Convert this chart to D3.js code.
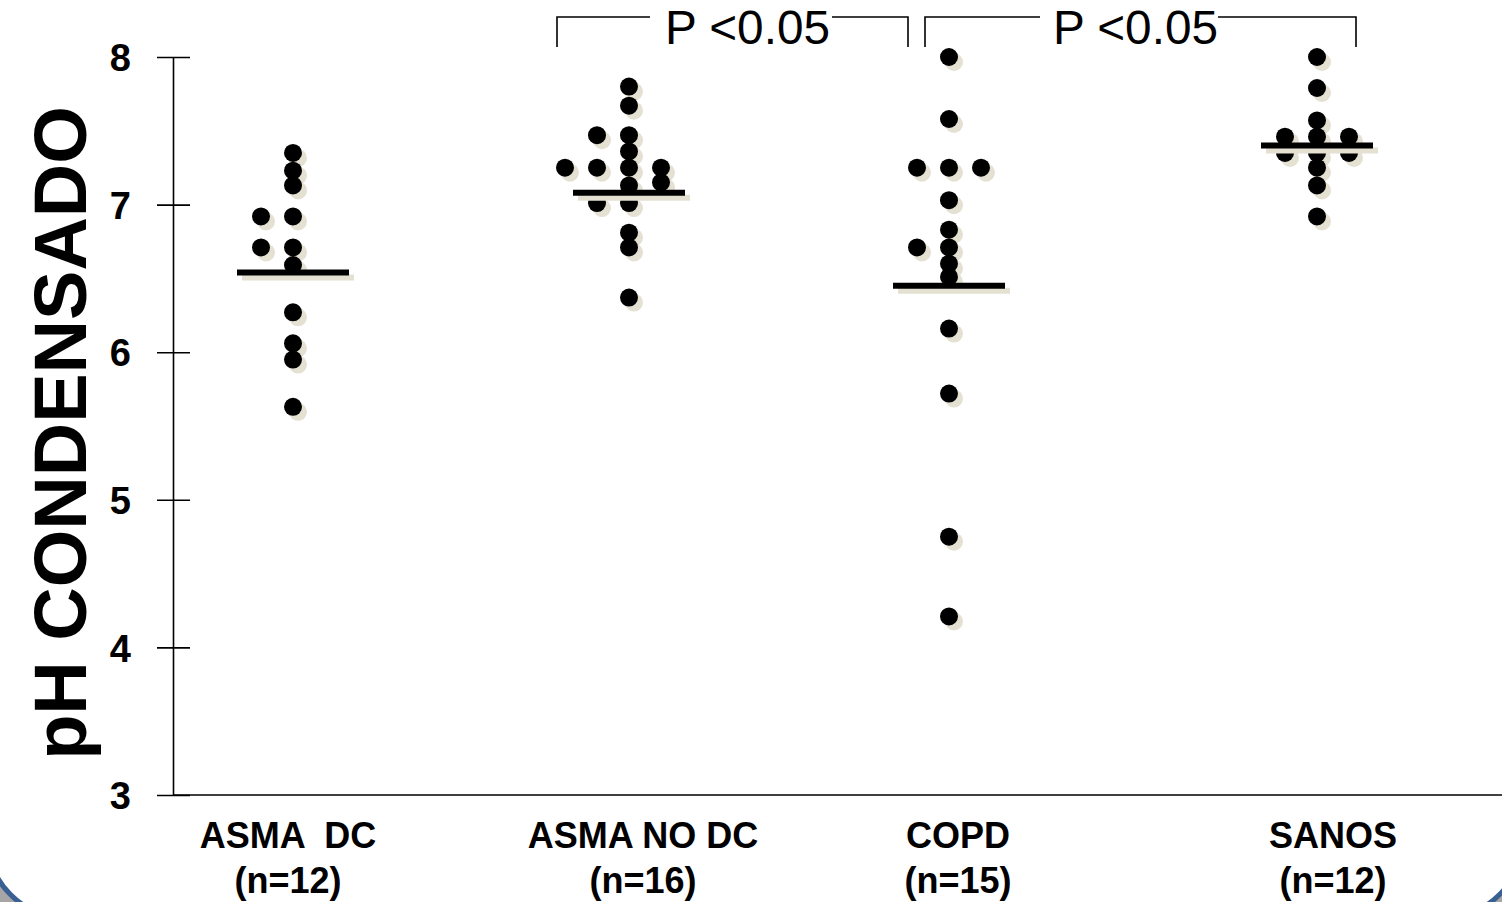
<!DOCTYPE html>
<html>
<head>
<meta charset="utf-8">
<script src="https://cdn.jsdelivr.net/npm/d3@7"></script>
<style>
  body { margin: 0; background: #fff; }
  text { font-family: Arial, "Liberation Sans", sans-serif; }
</style>
</head>
<body>
<script>
// groups on the x axis
var groups = ["ASMA  DC", "ASMA NO DC", "COPD", "SANOS"];
var groupN = ["(n=12)", "(n=16)", "(n=15)", "(n=12)"];

// pH per subject, with its column inside the group (0 = centre)
var asmaDcPh = [7.35, 7.23, 7.13, 6.92, 6.92, 6.71, 6.71, 6.59, 6.27, 6.06, 5.95, 5.63];
var asmaDcCol = [0, 0, 0, -1, 0, -1, 0, 0, 0, 0, 0, 0];
var asmaNoDcPh = [7.80, 7.67, 7.47, 7.47, 7.36, 7.25, 7.25, 7.25, 7.25, 7.15, 7.13, 7.01, 7.01, 6.81, 6.71, 6.37];
var asmaNoDcCol = [0, 0, -1, 0, 0, -2, -1, 0, 1, 1, 0, -1, 0, 0, 0, 0];
var copdPh = [8.00, 7.58, 7.25, 7.25, 7.25, 7.03, 6.83, 6.71, 6.71, 6.60, 6.51, 6.16, 5.72, 4.75, 4.21];
var copdCol = [0, 0, -1, 0, 1, 0, 0, -1, 0, 0, 0, 0, 0, 0, 0];
var sanosPh = [8.00, 7.79, 7.57, 7.46, 7.46, 7.46, 7.35, 7.35, 7.35, 7.25, 7.13, 6.92];
var sanosCol = [0, 0, 0, -1, 0, 1, -1, 0, 1, 0, 0, 0];

// group mean lines
var meanPh = [6.54, 7.08, 6.45, 7.40];

var yTicks = [3, 4, 5, 6, 7, 8];
var pLabel = "P <0.05";

var W = 1502, H = 902;
var shadow = "#e4e1d2";
var colStep = 32, r = 9, meanHalf = 56;

var svg = d3.select("body").append("svg").attr("width", W).attr("height", H);

// slide frame: grey behind, white rounded panel with blue border
svg.append("rect").attr("width", W).attr("height", H).attr("fill", "#a6a6a6");
svg.append("rect")
  .attr("x", -13).attr("y", -100).attr("width", 1536).attr("height", 1018)
  .attr("rx", 80).attr("ry", 80)
  .attr("fill", "#fff").attr("stroke", "#3a5f93").attr("stroke-width", 5);

var y = d3.scaleLinear().domain([3, 8]).range([795, 57]);
var x = d3.scaleOrdinal().domain(groups).range([293, 629, 949, 1317]);
var xLabel = d3.scaleOrdinal().domain(groups).range([288, 643, 958, 1333]);

var points = [];
[[asmaDcPh, asmaDcCol], [asmaNoDcPh, asmaNoDcCol], [copdPh, copdCol], [sanosPh, sanosCol]]
  .forEach(function(g, gi) {
    g[0].forEach(function(v, i) {
      points.push({group: groups[gi], value: v, col: g[1][i]});
    });
  });

// y axis, ticks reach both sides of the line
var yAxis = d3.axisLeft(y).tickValues(yTicks).tickFormat(d3.format("d"))
  .tickSizeInner(16).tickSizeOuter(0).tickPadding(26);
var ga = svg.append("g").attr("transform", "translate(173,0)").call(yAxis);
ga.select(".domain").attr("stroke", "#000").attr("stroke-width", 1.6);
ga.selectAll(".tick line").attr("x1", 17).attr("stroke", "#000").attr("stroke-width", 1.6);
ga.selectAll(".tick text")
  .attr("fill", "#000")
  .style("font-family", "Arial, 'Liberation Sans', sans-serif")
  .style("font-size", "38px").style("font-weight", "bold")
  .attr("dy", "0.36em");

// baseline along the bottom
svg.append("line")
  .attr("x1", 173).attr("x2", W).attr("y1", y(3)).attr("y2", y(3))
  .attr("stroke", "#000").attr("stroke-width", 1.6);

svg.append("text")
  .attr("transform", "translate(86," + 433 + ") rotate(-90)")
  .attr("text-anchor", "middle")
  .style("font-size", "74px").style("font-weight", "bold")
  .text("pH CONDENSADO");

// category labels
var gl = svg.selectAll(".glabel").data(groups).enter().append("g").attr("class", "glabel");
gl.append("text")
  .attr("x", function(d) { return xLabel(d); }).attr("y", 848)
  .attr("text-anchor", "middle").style("white-space", "pre")
  .style("font-size", "36px").style("font-weight", "bold")
  .text(function(d) { return d; });
gl.append("text")
  .attr("x", function(d) { return xLabel(d); }).attr("y", 893)
  .attr("text-anchor", "middle")
  .style("font-size", "36px").style("font-weight", "bold")
  .text(function(d, i) { return groupN[i]; });

// dots: shadows first, then the black marks
function cx(d) { return x(d.group) + d.col * colStep; }
svg.append("g").selectAll("circle").data(points).enter().append("circle")
  .attr("cx", function(d) { return cx(d) + 5; })
  .attr("cy", function(d) { return y(d.value) + 5; })
  .attr("r", r).attr("fill", shadow);
svg.append("g").selectAll("circle").data(points).enter().append("circle")
  .attr("cx", cx)
  .attr("cy", function(d) { return y(d.value); })
  .attr("r", r).attr("fill", "#000");

// mean lines
[[5, shadow], [0, "#000"]].forEach(function(s) {
  svg.append("g").selectAll("line").data(groups).enter().append("line")
    .attr("x1", function(d) { return x(d) - meanHalf + s[0]; })
    .attr("x2", function(d) { return x(d) + meanHalf + s[0]; })
    .attr("y1", function(d, i) { return y(meanPh[i]) + s[0]; })
    .attr("y2", function(d, i) { return y(meanPh[i]) + s[0]; })
    .attr("stroke", s[1]).attr("stroke-width", 6);
});

// significance brackets
var brackets = [
  {x0: 557, x1: 908, gap0: 650, gap1: 832, tx: 665},
  {x0: 925, x1: 1356, gap0: 1040, gap1: 1218, tx: 1053}
];
brackets.forEach(function(b) {
  svg.append("path")
    .attr("d", "M" + b.x0 + ",47V17H" + b.gap0 + "M" + b.gap1 + ",17H" + b.x1 + "V47")
    .attr("fill", "none").attr("stroke", "#000").attr("stroke-width", 1.6);
  svg.append("text")
    .attr("x", b.tx).attr("y", 44)
    .attr("textLength", 165).attr("lengthAdjust", "spacingAndGlyphs")
    .style("font-size", "48px")
    .text(pLabel);
});
</script>
</body>
</html>
